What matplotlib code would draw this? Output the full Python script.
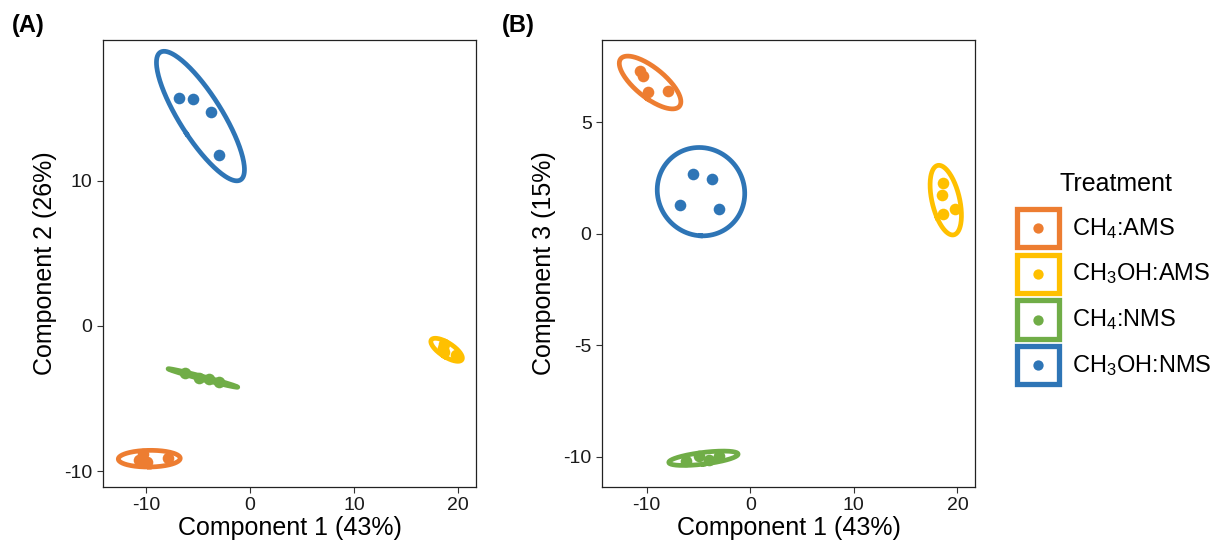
import numpy as np
import matplotlib.pyplot as plt
from matplotlib.patches import Rectangle

plt.rcParams['mathtext.default'] = 'regular'
plt.rcParams['font.family'] = ['Liberation Sans', 'DejaVu Sans']
plt.rcParams['axes.unicode_minus'] = False

treatments = ['CH$_4$:AMS', 'CH$_3$OH:AMS', 'CH$_4$:NMS', 'CH$_3$OH:NMS']
colors = ['#ED7D31', '#FFC000', '#70AD47', '#2E75B6']

# scores per treatment (4 replicates each)
comp1 = [
    [-10.6, -10.3, -9.85, -7.9],
    [18.6, 18.5, 18.6, 19.8],
    [-6.2, -4.9, -3.95, -3.0],
    [-6.8, -5.5, -3.7, -3.0],
]
comp2 = [
    [-9.25, -8.85, -9.4, -9.1],
    [-1.25, -1.55, -1.8, -2.0],
    [-3.25, -3.58, -3.66, -3.88],
    [15.7, 15.6, 14.7, 11.8],
]
comp3 = [
    [7.3, 7.1, 6.35, 6.4],
    [2.3, 1.75, 0.9, 1.1],
    [-10.2, -9.95, -10.15, -9.95],
    [1.3, 2.7, 2.47, 1.1],
]

# 95% confidence ellipse, chi-square with 2 df
CHI2_95 = 5.991


def conf_ellipse(x, y, npts=200):
    x = np.asarray(x)
    y = np.asarray(y)
    cov = np.cov(x, y)
    vals, vecs = np.linalg.eigh(cov)
    t = np.linspace(0, 2 * np.pi, npts)
    circ = np.vstack([np.cos(t), np.sin(t)])
    pts = vecs @ (np.sqrt(vals * CHI2_95)[:, None] * circ)
    return pts[0] + x.mean(), pts[1] + y.mean()


def panel(ax, xs, ys, xlim, ylim, xticks, yticks, ylabel):
    for i in range(len(treatments)):
        ex, ey = conf_ellipse(xs[i], ys[i])
        ax.plot(ex, ey, color=colors[i], lw=3.4, zorder=2)
        ax.scatter(xs[i], ys[i], s=70, color=colors[i], zorder=3, linewidths=0)
    ax.set_xlim(xlim)
    ax.set_ylim(ylim)
    ax.set_xticks(xticks)
    ax.set_yticks(yticks)
    ax.tick_params(labelsize=14, colors='#333333', labelcolor='#1a1a1a', length=4, width=0.8)
    for s in ax.spines.values():
        s.set_color('#222222')
        s.set_linewidth(0.9)
    ax.set_xlabel('Component 1 (43%)', fontsize=18, labelpad=1)
    ax.set_ylabel(ylabel, fontsize=18, labelpad=5)


fig = plt.figure(figsize=(12.15, 5.52), dpi=100)
axA = fig.add_axes([0.0848, 0.1178, 0.307, 0.81])
axB = fig.add_axes([0.4955, 0.1178, 0.307, 0.81])

panel(axA, comp1, comp2, (-14.1, 21.7), (-11.1, 19.7), [-10, 0, 10, 20], [-10, 0, 10],
      'Component 2 (26%)')
panel(axB, comp1, comp3, (-14.3, 21.7), (-11.35, 8.7), [-10, 0, 10, 20], [-10, -5, 0, 5],
      'Component 3 (15%)')

fig.text(0.010, 0.953, '(A)', fontsize=17, fontweight='bold', va='center')
fig.text(0.413, 0.953, '(B)', fontsize=17, fontweight='bold', va='center')

# legend
lg = fig.add_axes([0.83, 0.28, 0.17, 0.42])
lg.set_xlim(0, 1)
lg.set_ylim(0, 1)
lg.axis('off')
lg.text(0.245, 0.92, 'Treatment', fontsize=18, va='center', ha='left')
key_w, key_h = 0.205, 0.19
for i, name in enumerate(treatments):
    yc = 0.73 - i * 0.197
    lg.add_patch(Rectangle((0.04, yc - key_h / 2 + 0.012), key_w, key_h - 0.024, fill=False,
                           edgecolor=colors[i], lw=3.8))
    lg.scatter([0.04 + key_w / 2], [yc], s=55, color=colors[i], linewidths=0)
    lg.text(0.31, yc, name, fontsize=17, va='center', ha='left')

fig.savefig('out.png', dpi=100)
